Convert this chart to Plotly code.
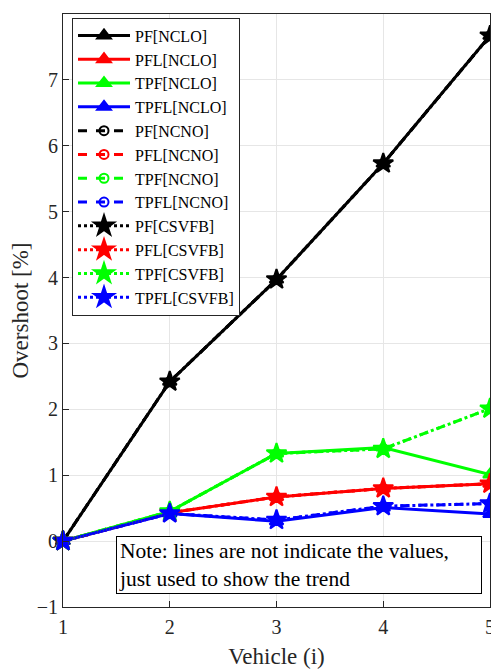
import plotly.graph_objects as go

vehicles = [1, 2, 3, 4, 5]

pf_nclo = [0, 2.42, 3.97, 5.73, 7.67]
pfl_nclo = [0, 0.43, 0.67, 0.80, 0.87]
tpf_nclo = [0, 0.45, 1.33, 1.42, 1.01]
tpfl_nclo = [0, 0.42, 0.30, 0.51, 0.41]

pf_ncno = [0, 2.42, 3.97, 5.73, 7.67]
pfl_ncno = [0, 0.43, 0.67, 0.80, 0.87]
tpf_ncno = [0, 0.45, 1.33, 1.40, 2.01]
tpfl_ncno = [0, 0.42, 0.32, 0.53, 0.57]

pf_csvfb = [0, 2.42, 3.97, 5.73, 7.67]
pfl_csvfb = [0, 0.43, 0.67, 0.80, 0.87]
tpf_csvfb = [0, 0.45, 1.33, 1.40, 2.01]
tpfl_csvfb = [0, 0.42, 0.32, 0.53, 0.57]

series = [
    ("PF[NCLO]", pf_nclo, "black", "solid", "triangle-up"),
    ("PFL[NCLO]", pfl_nclo, "#ff0000", "solid", "triangle-up"),
    ("TPF[NCLO]", tpf_nclo, "#00ff00", "solid", "triangle-up"),
    ("TPFL[NCLO]", tpfl_nclo, "#0000ff", "solid", "triangle-up"),
    ("PF[NCNO]", pf_ncno, "black", "dash", "circle-open"),
    ("PFL[NCNO]", pfl_ncno, "#ff0000", "dash", "circle-open"),
    ("TPF[NCNO]", tpf_ncno, "#00ff00", "dash", "circle-open"),
    ("TPFL[NCNO]", tpfl_ncno, "#0000ff", "dash", "circle-open"),
    ("PF[CSVFB]", pf_csvfb, "black", "dot", "star"),
    ("PFL[CSVFB]", pfl_csvfb, "#ff0000", "dot", "star"),
    ("TPF[CSVFB]", tpf_csvfb, "#00ff00", "dot", "star"),
    ("TPFL[CSVFB]", tpfl_csvfb, "#0000ff", "dot", "star"),
]

fig = go.Figure()
for name, vals, color, dash, sym in series:
    size = {"triangle-up": 12, "circle-open": 9, "star": 15}[sym]
    fig.add_trace(go.Scatter(
        x=vehicles, y=vals, name=name, mode="lines+markers",
        line=dict(color=color, width=3, dash=dash),
        marker=dict(symbol=sym, size=size, color=color,
                    line=dict(color=color, width=2)),
        cliponaxis=False,
    ))

font = "Liberation Serif, Times New Roman, serif"
axis_common = dict(
    ticks="inside", ticklen=6, tickcolor="#262626",
    showline=True, linecolor="#262626", linewidth=1, mirror=True,
    showgrid=True, gridcolor="#e6e6e6", gridwidth=1, zeroline=False,
    automargin=False, tickfont=dict(size=20, color="#262626"),
)
fig.update_layout(
    template="none",
    width=483, height=662,
    margin=dict(l=55, r=1, t=6, b=63),
    paper_bgcolor="white", plot_bgcolor="white",
    font=dict(family=font, size=17, color="#262626"),
    showlegend=True,
    legend=dict(
        x=0.0211, y=0.994, xanchor="left", yanchor="top",
        bgcolor="white", bordercolor="#262626", borderwidth=1,
        font=dict(family=font, size=16, color="black"),
        tracegroupgap=0, itemwidth=52,
    ),
    xaxis=dict(
        range=[1, 5], tickvals=[1, 2, 3, 4, 5], ticklabelstandoff=2,
        ticklabeloverflow="allow",
        title=dict(text="Vehicle (i)", font=dict(size=23), standoff=10),
        **axis_common,
    ),
    yaxis=dict(
        range=[-1, 8], tickvals=list(range(-1, 9)),
        title=dict(text="Overshoot [%]", font=dict(size=23), standoff=10),
        **axis_common,
    ),
    annotations=[dict(
        xref="paper", yref="paper", x=0.124, y=0.1197, xanchor="left", yanchor="top",
        text="Note: lines are not indicate the values,<br>just used to show the trend",
        align="left", showarrow=False, width=360,
        font=dict(family=font, size=21.5, color="black"),
        bgcolor="white", bordercolor="black", borderwidth=1, borderpad=2,
    )],
)

fig.write_html("out.html")
